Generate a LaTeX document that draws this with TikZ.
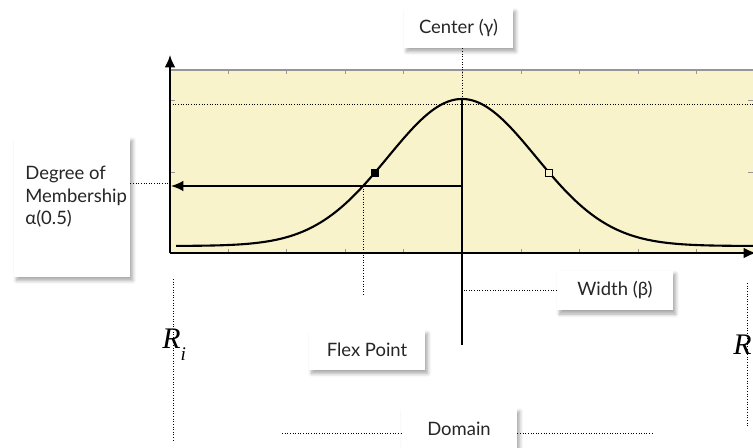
\documentclass[tikz,border=0pt]{standalone}
\usepackage{fontspec}
\setmainfont{Lato}
\newfontfamily\rangefont{Liberation Serif}
\usetikzlibrary{arrows.meta, positioning, calc, shadows.blur}
\definecolor{plotfill}{RGB}{249,243,203}
\definecolor{tickgray}{RGB}{150,150,150}

\begin{document}
\begin{tikzpicture}[x=0.02cm, y=-0.02cm,
        callout/.style={fill=white, minimum height=0.8cm, minimum width=2.32cm, inner sep=0pt,
            font=\fontsize{10.5}{12.8}\selectfont, text=black!85,
            blur shadow={shadow xshift=1.5pt, shadow yshift=-2pt, shadow blur steps=6, shadow opacity=35}},
        leader/.style={densely dotted, line width=0.5pt},
        axis/.style={line width=1.1pt, -{Latex[length=7pt,width=6pt]}},
        ticks/.style={tickgray, line width=0.4pt},
        rlabel/.style={inner sep=0pt, font=\rangefont\itshape\fontsize{17}{18}\selectfont}]
        \useasboundingbox (0,0) rectangle (753,448);

        % Plot area
        \fill[plotfill] (170,70) rectangle (753,253);
        \draw[tickgray, line width=0.6pt] (170,70) -- (753,70);
        \foreach \k in {0,...,8}
            \draw[ticks] ({228+58.6*\k},70) -- ++(0,4) ({228+58.6*\k},253) -- ++(0,-4);
        \foreach \y in {100,172}
            \draw[ticks] (170,\y) -- ++(5,0) (753,\y) -- ++(-5,0);

        % Peak level
        \draw[leader] (170,104) -- (753,104);

        % Membership curve
        \draw[line width=1.2pt] plot[domain=176:753, samples=120, smooth]
            (\x,{246-147*exp(-0.5*((\x-462)/73.9)^2)});

        % Axes
        \coordinate (origin) at (170,253);
        \draw[axis] (origin) -- (170,55);
        \draw[axis] (origin) -- (756,253);

        % Center line and alpha arrow
        \coordinate (peak) at (462,99);
        \coordinate (ctrfoot) at (462,345);
        \draw[line width=1.2pt] (peak) -- (ctrfoot);
        \coordinate (alphaA) at (462,186);
        \coordinate (alphaB) at (171,186);
        \draw[line width=1pt, -{Latex[length=7pt,width=6pt]}] (alphaA) -- (alphaB);

        % Flex points
        \node[draw, fill=black, minimum size=4pt, inner sep=0pt] (flexL) at (375,173) {};
        \node[draw, fill=plotfill, minimum size=4pt, inner sep=0pt] (flexR) at (549,173) {};
        \coordinate (cross) at (363,186);
        \coordinate (crossfoot) at (363,296);
        \draw[leader] (cross) -- (crossfoot);

        % Callouts
        \node[callout, minimum width=2.18cm] (ctrbox) at (458.5,28) {Center (γ)};
        \draw[leader] (peak |- ctrbox.south) -- (peak);

        \node[callout, minimum height=2.8cm] (degbox) at (72,207) {};
        \node[anchor=north west, align=left, inner sep=0pt, text=black!85,
            font=\fontsize{10.5}{12.8}\selectfont] (degtext) at (25,166) {Degree of\\Membership\\α(0.5)};
        \coordinate (alphaY) at (170,183);
        \draw[leader] (degbox.east |- alphaY) -- (alphaY);

        \node[callout] (widthbox) at (615,290.5) {Width (β)};
        \draw[leader] (widthbox.west) -- (widthbox.west -| peak);

        \node[callout] (flexbox) at (367,350) {Flex Point};

        \node[callout, minimum height=0.82cm] (dombox) at (459,428.5) {Domain};
        \coordinate (domL) at (282,433);
        \coordinate (domR) at (653,433);
        \draw[leader] (domL) -- (domL -| dombox.west);
        \draw[leader] (dombox.east |- domR) -- (domR);

        % Range bounds
        \coordinate (RiTop) at (173,279);
        \coordinate (RiBot) at (173,442);
        \draw[leader] (RiTop) -- (RiBot);
        \node[rlabel, anchor=west] (Ri) at (162,345) {R\raisebox{-7pt}{\fontsize{11}{11}\selectfont i}};
        \coordinate (RjTop) at (747,283);
        \coordinate (RjBot) at (747,427);
        \draw[leader] (RjTop) -- (RjBot);
        \node[rlabel, anchor=east] (Rj) at (752,345) {R};
    \end{tikzpicture}
\end{document}
